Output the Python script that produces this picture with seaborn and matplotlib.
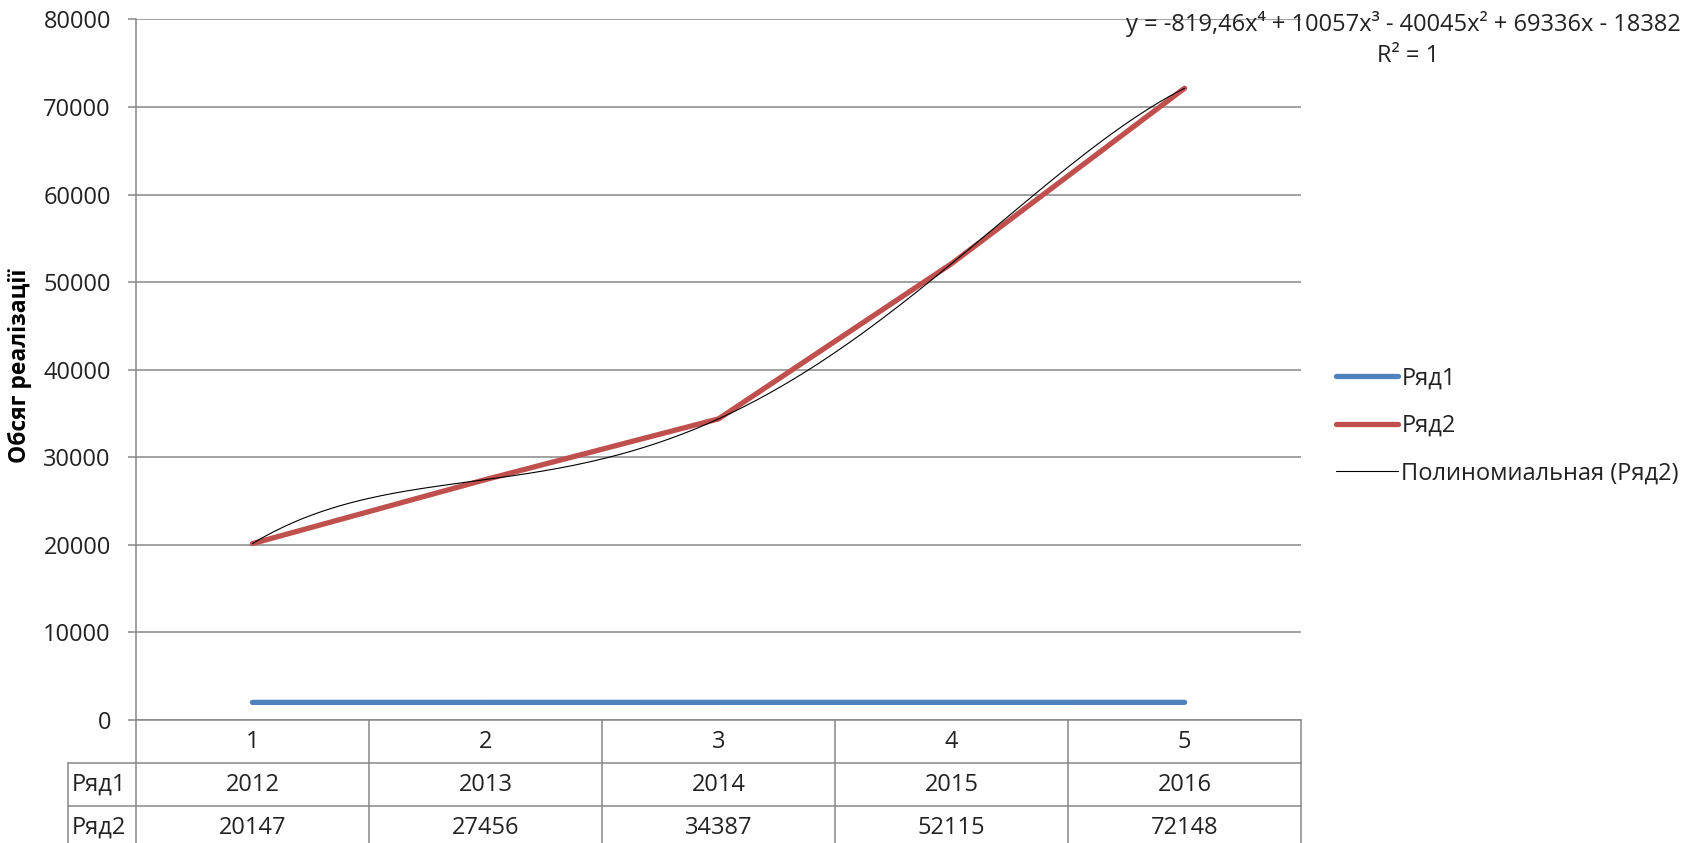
import matplotlib.pyplot as plt
import numpy as np
import seaborn as sns

# series data
periods = [1, 2, 3, 4, 5]
ryad1 = [2012, 2013, 2014, 2015, 2016]
ryad2 = [20147, 27456, 34387, 52115, 72148]
series_names = ["Ряд1", "Ряд2"]
trend_label = "Полиномиальная (Ряд2)"
equation_text = "y = -819,46x⁴ + 10057x³ - 40045x² + 69336x - 18382"
r2_text = "R² = 1"
y_ticks = list(range(0, 80001, 10000))

sns.set_style("white")
plt.rcParams["font.family"] = ["Open Sans", "DejaVu Sans"]
grid_col = "#878787"
txt_col = "#222222"
fs = 17

fig = plt.figure(figsize=(16.97, 8.43), dpi=100)
ax = fig.add_axes([0.0801, 0.1459, 0.6866, 0.831])

sns.lineplot(x=periods, y=ryad1, ax=ax, color="#4F81BD", lw=3.8,
             solid_capstyle="round", label=series_names[0])
sns.lineplot(x=periods, y=ryad2, ax=ax, color="#C0504D", lw=3.8,
             solid_capstyle="round", label=series_names[1])

# polynomial trendline (degree 4) fitted to Ряд2
coef = np.polyfit(periods, ryad2, 4)
xs = np.linspace(periods[0], periods[-1], 300)
ax.plot(xs, np.polyval(coef, xs), color="black", lw=0.8, label=trend_label)

ax.set_xlim(0.5, 5.5)
ax.set_ylim(0, 80000)
ax.set_yticks(y_ticks)
ax.set_xticks([])
ax.yaxis.grid(True, color=grid_col, lw=1.1)
ax.set_axisbelow(True)
for s in ["top", "right"]:
    ax.spines[s].set_visible(False)
for s in ["left", "bottom"]:
    ax.spines[s].set_color(grid_col)
    ax.spines[s].set_linewidth(1.1)
ax.tick_params(axis="y", left=True, length=6, width=1.1, color=grid_col,
               pad=12, labelsize=fs, labelcolor=txt_col)
ax.set_ylabel("Обсяг реалізації", fontsize=16.5, fontweight="bold", color="black")
ax.yaxis.set_label_coords(-0.089, 0.505)

ax.legend(loc="center left", bbox_to_anchor=(1.012, 0.42), frameon=False,
          fontsize=fs, handlelength=2.6, handletextpad=0.15, labelspacing=1.0,
          labelcolor=txt_col)

# trendline equation
ax.text(1.088, 0.9936, equation_text, transform=ax.transAxes, ha="center",
        va="center", fontsize=fs, color=txt_col, clip_on=False)
ax.text(1.092, 0.948, r2_text, transform=ax.transAxes, ha="center",
        va="center", fontsize=fs, color=txt_col, clip_on=False)

# data table under the plot
h = 43 / 700.5
lab_x = -68 / 1165
tab_kw = dict(color=grid_col, lw=1.1, transform=ax.transAxes, clip_on=False)
for yy in [-h, -2 * h, -3 * h]:
    ax.plot([lab_x, 1], [yy, yy], **tab_kw)
ax.plot([lab_x, lab_x], [-h, -3 * h], **tab_kw)
for k in range(6):
    ax.plot([k / 5, k / 5], [0, -3 * h], **tab_kw)
for i, p in enumerate(periods):
    xc = (i + 0.5) / 5
    ax.text(xc, -0.5 * h, str(p), transform=ax.transAxes, ha="center",
            va="center", fontsize=fs, color=txt_col)
    ax.text(xc, -1.5 * h, str(ryad1[i]), transform=ax.transAxes, ha="center",
            va="center", fontsize=fs, color=txt_col)
    ax.text(xc, -2.5 * h, str(ryad2[i]), transform=ax.transAxes, ha="center",
            va="center", fontsize=fs, color=txt_col)
for j, name in enumerate(series_names):
    ax.text(lab_x + 0.003, -(1.5 + j) * h, name, transform=ax.transAxes,
            ha="left", va="center", fontsize=fs, color=txt_col)

fig.savefig("out.png", dpi=100)
